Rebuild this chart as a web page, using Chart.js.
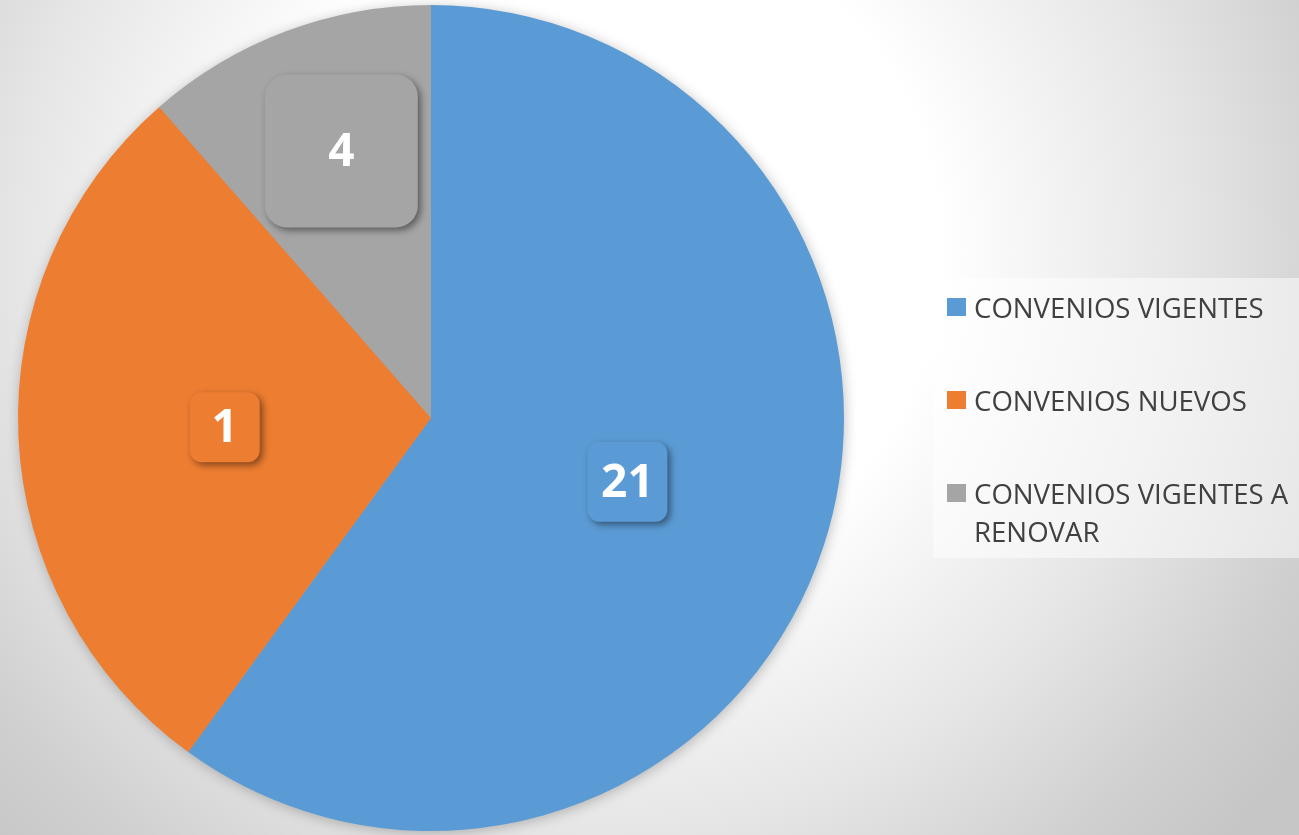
<!DOCTYPE html>
<html>
<head>
<meta charset="utf-8">
<script src="https://cdn.jsdelivr.net/npm/chart.js@4"></script>
<style>
    html, body {
        margin: 0;
        padding: 0;
        width: 1299px;
        height: 835px;
        overflow: hidden;
    }
    body {
        background: radial-gradient(circle at 600px 250px, #ffffff 0px, #ffffff 340px, #e6e6e6 580px, #d0d0d0 750px, #c6c6c6 860px);
        font-family: 'Open Sans', sans-serif;
    }
    #wrap {
        position: absolute;
        left: 0;
        top: 0;
        width: 1299px;
        height: 835px;
    }
    #legend {
        position: absolute;
        left: 933px;
        top: 278px;
        width: 366px;
        height: 280px;
        background: rgba(255, 255, 255, 0.5);
    }
    .legend-item {
        position: absolute;
        left: 14px;
        display: flex;
        align-items: flex-start;
    }
    .legend-box {
        width: 19px;
        height: 18px;
        margin-top: 10px;
        margin-right: 8px;
        flex: none;
    }
    .legend-text {
        font-size: 27.6px;
        line-height: 38px;
        color: #404040;
        width: 330px;
    }
</style>
</head>
<body>
<div id="wrap">
    <canvas id="pieChart" width="1299" height="835"></canvas>
    <div id="legend"></div>
</div>
<script>
// Chart data
const categories = ['CONVENIOS VIGENTES', 'CONVENIOS NUEVOS', 'CONVENIOS VIGENTES A RENOVAR'];
const values = [21, 10, 4];
const shownLabels = ['21', '1', '4'];
const colors = ['#5B9BD5', '#ED7D31', '#A5A5A5'];

/**
 * Soft shadow under the whole pie
 */
const pieShadowPlugin = {
    id: 'pieShadow',
    beforeDatasetsDraw(chart) {
        const arcs = chart.getDatasetMeta(0).data;
        if (!arcs.length) return;
        const arc = arcs[0];
        const ctx = chart.ctx;

        ctx.save();
        ctx.shadowColor = 'rgba(0, 0, 0, 0.28)';
        ctx.shadowBlur = 14;
        ctx.shadowOffsetX = 1;
        ctx.shadowOffsetY = 2;
        ctx.fillStyle = '#a0a0a0';
        ctx.beginPath();
        ctx.arc(arc.x, arc.y, arc.outerRadius - 1, 0, Math.PI * 2);
        ctx.fill();
        ctx.restore();
    }
};

/**
 * Rounded value boxes drawn on each slice
 */
const valueBoxPlugin = {
    id: 'valueBoxes',
    afterDatasetsDraw(chart, args, opts) {
        const ctx = chart.ctx;
        const arcs = chart.getDatasetMeta(0).data;

        arcs.forEach((arc, i) => {
            const mid = (arc.startAngle + arc.endAngle) / 2 + opts.turn[i] * Math.PI / 180;
            const r = arc.outerRadius * opts.radius[i];
            const cx = arc.x + Math.cos(mid) * r;
            const cy = arc.y + Math.sin(mid) * r;
            const size = opts.size[i];

            ctx.save();
            ctx.shadowColor = 'rgba(0, 0, 0, 0.45)';
            ctx.shadowBlur = 7;
            ctx.shadowOffsetX = 3;
            ctx.shadowOffsetY = 3;
            ctx.fillStyle = colors[i];
            ctx.beginPath();
            ctx.roundRect(cx - size / 2, cy - size / 2, size, size, opts.corner[i]);
            ctx.fill();
            ctx.restore();

            ctx.save();
            ctx.fillStyle = '#ffffff';
            ctx.font = 'bold 46px "Open Sans", sans-serif';
            ctx.textAlign = 'center';
            ctx.textBaseline = 'middle';
            ctx.fillText(shownLabels[i], cx, cy + 2);
            ctx.restore();
        });
    }
};

// Build legend
const legendEl = document.getElementById('legend');
const legendTops = [10, 103, 196];
categories.forEach((name, i) => {
    const item = document.createElement('div');
    item.className = 'legend-item';
    item.style.top = legendTops[i] + 'px';
    item.innerHTML = `<div class="legend-box" style="background:${colors[i]}"></div><div class="legend-text">${name}</div>`;
    legendEl.appendChild(item);
});

const ctx = document.getElementById('pieChart');
new Chart(ctx, {
    type: 'pie',
    data: {
        labels: categories,
        datasets: [{
            data: values,
            backgroundColor: colors,
            borderWidth: 0
        }]
    },
    options: {
        responsive: false,
        animation: false,
        events: [],
        layout: {
            padding: { left: 18, right: 455, top: 5, bottom: 4 }
        },
        plugins: {
            legend: { display: false },
            tooltip: { enabled: false },
            valueBoxes: {
                radius: [0.5, 0.5, 0.682],
                turn: [0, 0, 2],
                size: [80, 70, 153],
                corner: [12, 12, 22]
            }
        }
    },
    plugins: [pieShadowPlugin, valueBoxPlugin]
});
</script>
</body>
</html>
